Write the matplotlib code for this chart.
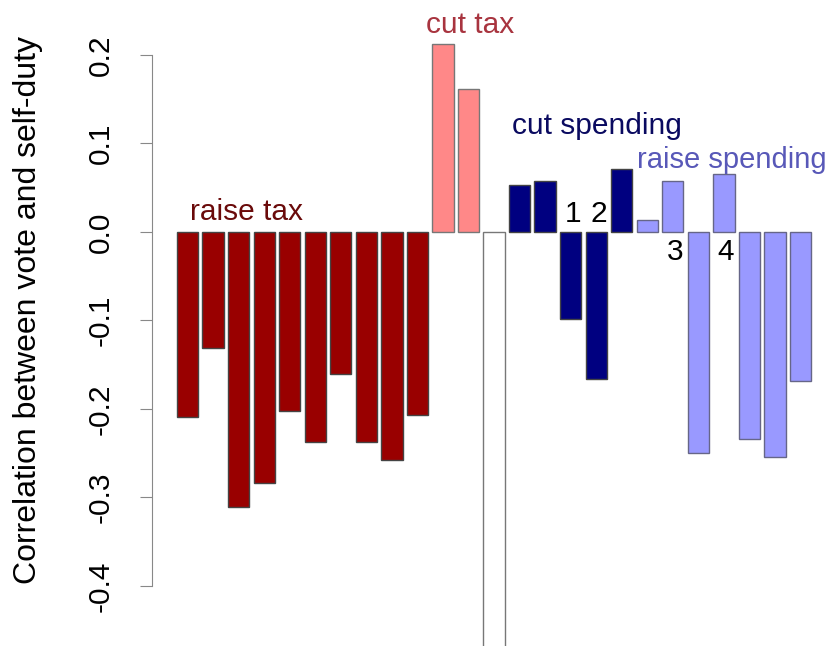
import numpy as np
import matplotlib.pyplot as plt
import matplotlib as mpl

mpl.rcParams.update({
    "font.family": ["Liberation Sans", "DejaVu Sans"],
})

# bar values, left to right
raise_tax = [-0.209, -0.131, -0.311, -0.284, -0.202, -0.237, -0.161, -0.237, -0.258, -0.207]
cut_tax = [0.212, 0.161]
blank = [-0.60]          # white bar, runs off the bottom
cut_spending = [0.053, 0.058, -0.099, -0.166, 0.071]
raise_spending = [0.013, 0.057, -0.250, 0.065, -0.234, -0.254, -0.169]

COLORS = {
    "raise_tax": "#990000",
    "cut_tax": "#FF8888",
    "blank": "white",
    "cut_spending": "#000080",
    "raise_spending": "#9999FF",
}
EDGES = {
    "raise_tax": "#444444",
    "cut_tax": "#777777",
    "blank": "#777777",
    "cut_spending": "#444444",
    "raise_spending": "#666688",
}

groups = [("raise_tax", raise_tax), ("cut_tax", cut_tax), ("blank", blank),
          ("cut_spending", cut_spending), ("raise_spending", raise_spending)]

values, colors, edges = [], [], []
for name, vals in groups:
    values += vals
    colors += [COLORS[name]] * len(vals)
    edges += [EDGES[name]] * len(vals)
values = np.array(values)
# R barplot layout: width 1, space 0.2
xpos = 0.7 + 1.2 * np.arange(len(values))

# numbered bars (index into the bar list)
numbered = {15: "1", 16: "2", 19: "3", 21: "4"}

FS = 21.5

fig = plt.figure(figsize=(8.31, 6.46), dpi=100)
ax = fig.add_axes([0, 0, 1, 1])
ax.bar(xpos, values, width=1.0, color=colors, edgecolor=edges, linewidth=1.0)

ax.set_xlim(-8.11, 30.93)
ax.set_ylim(-0.468, 0.262)

for s in ["top", "right", "bottom"]:
    ax.spines[s].set_visible(False)
ax.spines["left"].set_position(("data", -0.97))
ax.spines["left"].set_bounds(-0.4, 0.2)
ax.spines["left"].set_color("#888888")
ax.set_xticks([])
ticks = [-0.4, -0.3, -0.2, -0.1, 0.0, 0.1, 0.2]
ax.set_yticks(ticks)
ax.set_yticklabels([f"{t:.1f}" for t in ticks], rotation=90, va="center",
                   fontsize=FS)
ax.tick_params(axis="y", direction="out", length=9, color="#888888", pad=18)
ax.set_ylabel("Correlation between vote and self-duty", fontsize=23)
ax.yaxis.set_label_coords(0.052, 0.52, transform=fig.transFigure)
ax.patch.set_alpha(0)

# group labels
ax.text(0.82, 0.022, "raise tax", color="#6a0a0a", fontsize=FS, ha="left", va="center")
ax.text(13.98, 0.234, "cut tax", color="#a8343f", fontsize=FS, ha="center", va="center")
ax.text(15.94, 0.12, "cut spending", color="#0a0a60", fontsize=FS, ha="left", va="center")
ax.text(21.80, 0.081, "raise spending", color="#5858b8", fontsize=21, ha="left", va="center")

for i, lab in numbered.items():
    y = 0.02 if i < 17 else -0.023
    ax.text(xpos[i] + 0.1, y, lab, color="black", fontsize=FS, ha="center", va="center")

fig.savefig("out.png", dpi=100)
